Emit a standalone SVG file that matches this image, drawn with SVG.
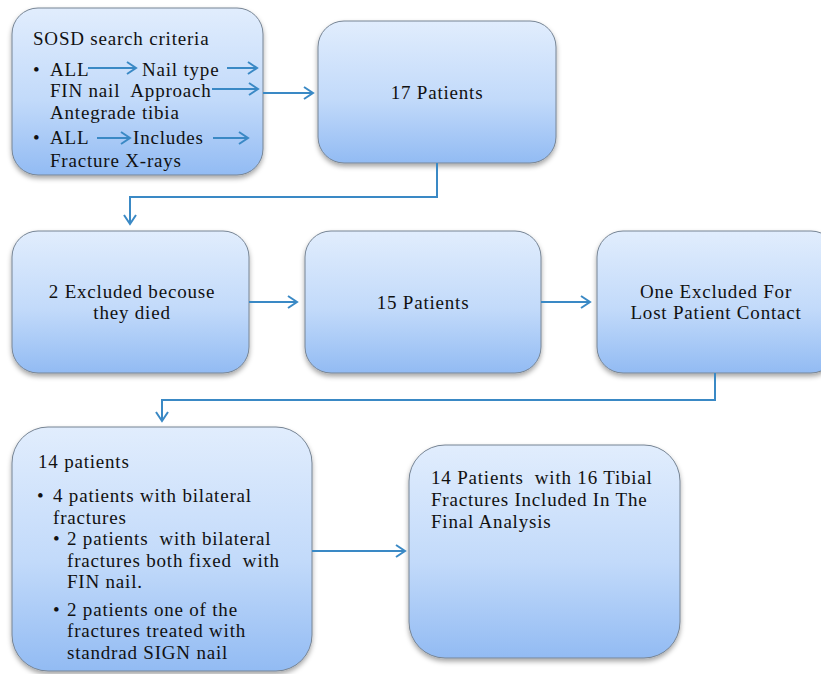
<svg xmlns="http://www.w3.org/2000/svg" width="821" height="674" viewBox="0 0 821 674">
<defs>
<linearGradient id="g" x1="0" y1="0" x2="0" y2="1">
<stop offset="0" stop-color="#e1edfd"/>
<stop offset="0.55" stop-color="#c2dafa"/>
<stop offset="1" stop-color="#92bbf3"/>
</linearGradient>
<filter id="sh" x="-10%" y="-10%" width="120%" height="125%">
<feDropShadow dx="0" dy="3" stdDeviation="2.5" flood-color="#000" flood-opacity="0.35"/>
</filter>
<marker id="ah" markerUnits="userSpaceOnUse" markerWidth="14" markerHeight="16" refX="10" refY="7" orient="auto">
<path d="M1,1 L10,7 L1,13" fill="none" stroke="#3a89c5" stroke-width="2"/>
</marker>
</defs>
<style>
.box{fill:url(#g);stroke:#768494;stroke-width:1;filter:url(#sh)}
.t{font-family:"Liberation Serif","Times New Roman",serif;font-size:19px;letter-spacing:0.8px;fill:#111}
.c{text-anchor:middle}
.ln{fill:none;stroke:#3a89c5;stroke-width:2}
</style>
<rect width="821" height="674" fill="#fff"/>
<g id="n1">
<rect class="box" x="12" y="8" width="251" height="167" rx="26"/>
<text class="t" xml:space="preserve"><tspan x="33" y="45">SOSD search criteria</tspan><tspan x="33" y="75.5">•</tspan><tspan x="50" y="75.5">ALL</tspan><tspan x="142" y="75.5">Nail type</tspan><tspan x="50" y="97">FIN nail  Approach</tspan><tspan x="50" y="118.5">Antegrade tibia</tspan><tspan x="33" y="144">•</tspan><tspan x="50" y="144">ALL</tspan><tspan x="133" y="144">Includes</tspan><tspan x="50" y="167">Fracture X-rays</tspan></text>
<g>
<line class="ln" x1="88" y1="68" x2="136" y2="68" marker-end="url(#ah)"/>
<line class="ln" x1="227" y1="68" x2="257" y2="68" marker-end="url(#ah)"/>
<line class="ln" x1="212" y1="89" x2="258" y2="89" marker-end="url(#ah)"/>
<line class="ln" x1="97" y1="138" x2="130" y2="138" marker-end="url(#ah)"/>
<line class="ln" x1="213" y1="138" x2="248" y2="138" marker-end="url(#ah)"/>
</g>
</g>
<g id="n2">
<rect class="box" x="318" y="21" width="238" height="142" rx="26"/>
<text class="t c" x="437" y="99">17 Patients</text>
</g>
<g id="n3">
<rect class="box" x="12" y="231" width="237" height="142" rx="26"/>
<text class="t c"><tspan x="132" y="297.5">2 Excluded becouse</tspan><tspan x="132" y="319">they died</tspan></text>
</g>
<g id="n4">
<rect class="box" x="305" y="231" width="236" height="142" rx="26"/>
<text class="t c" x="423" y="309">15 Patients</text>
</g>
<g id="n5">
<rect class="box" x="597" y="231" width="240" height="142" rx="26"/>
<text class="t c"><tspan x="716" y="297.5">One Excluded For</tspan><tspan x="716" y="319">Lost Patient Contact</tspan></text>
</g>
<g id="n6">
<rect class="box" x="12" y="427" width="300" height="244" rx="36"/>
<text class="t" xml:space="preserve"><tspan x="38" y="468">14 patients</tspan><tspan x="37" y="502">•</tspan><tspan x="53" y="502">4 patients with bilateral</tspan><tspan x="53" y="523.5">fractures</tspan><tspan x="53" y="545">•</tspan><tspan x="67" y="545">2 patients  with bilateral</tspan><tspan x="67" y="566.5">fractures both fixed  with</tspan><tspan x="67" y="588">FIN nail.</tspan><tspan x="53" y="615.5">•</tspan><tspan x="67" y="615.5">2 patients one of the</tspan><tspan x="67" y="637">fractures treated with</tspan><tspan x="67" y="658.5">standrad SIGN nail</tspan></text>
</g>
<g id="n7">
<rect class="box" x="409" y="445" width="271" height="213" rx="36"/>
<text class="t" xml:space="preserve"><tspan x="431" y="484">14 Patients  with 16 Tibial</tspan><tspan x="431" y="506">Fractures Included In The</tspan><tspan x="431" y="528">Final Analysis</tspan></text>
</g>
<g id="connectors">
<line class="ln" x1="263" y1="93" x2="313" y2="93" marker-end="url(#ah)"/>
<polyline class="ln" points="437,163 437,197 130,197 130,224" marker-end="url(#ah)"/>
<line class="ln" x1="249" y1="302" x2="297" y2="302" marker-end="url(#ah)"/>
<line class="ln" x1="541" y1="302" x2="590" y2="302" marker-end="url(#ah)"/>
<polyline class="ln" points="715,373 715,400 162,400 162,421" marker-end="url(#ah)"/>
<line class="ln" x1="312" y1="551" x2="405" y2="551" marker-end="url(#ah)"/>
</g>
</svg>
